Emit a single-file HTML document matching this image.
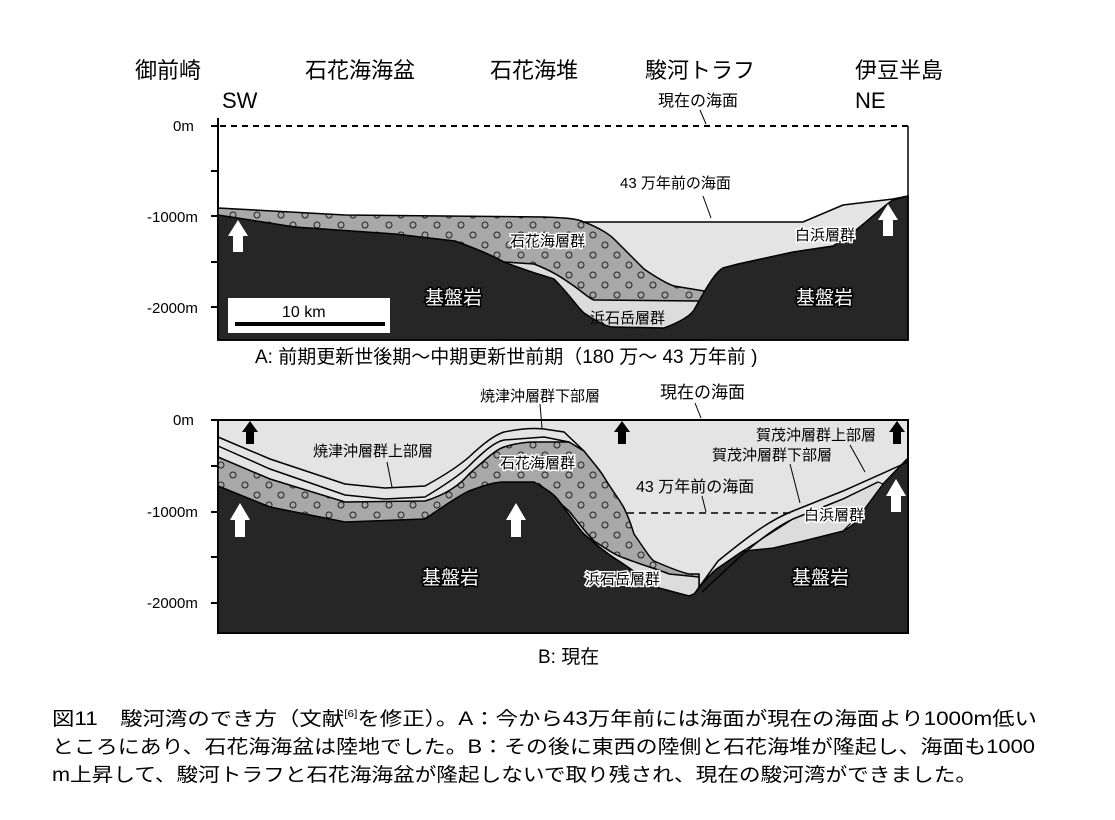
<!DOCTYPE html>
<html><head><meta charset="utf-8"><style>
html,body{margin:0;padding:0;background:#fff}
svg text{font-family:"Liberation Sans","Noto Sans CJK JP",sans-serif}
</style></head><body>
<svg width="1115" height="815" viewBox="0 0 1115 815" xmlns="http://www.w3.org/2000/svg">
<defs>
<pattern id="dots" width="24" height="20" patternUnits="userSpaceOnUse">
<rect width="24" height="20" fill="#a8a8a8"/>
<circle cx="5" cy="5" r="3" fill="none" stroke="#222" stroke-width="1"/>
<circle cx="17" cy="15" r="3" fill="none" stroke="#222" stroke-width="1"/>
</pattern>
</defs>
<g font-size="22" fill="#000">
<text x="135" y="78">御前崎</text>
<text x="305" y="78">石花海海盆</text>
<text x="490" y="78">石花海堆</text>
<text x="645" y="78">駿河トラフ</text>
<text x="855" y="78">伊豆半島</text>
<text x="222" y="108">SW</text>
<text x="855" y="108">NE</text>
</g>
<text x="658" y="106" font-size="16">現在の海面</text>
<line x1="700" y1="110" x2="706" y2="124" stroke="#000"/>
<!-- Panel A -->
<g font-size="15">
<text x="173" y="131">0m</text>
<text x="147" y="222">-1000m</text>
<text x="147" y="313">-2000m</text>
</g>
<g stroke="#000" stroke-width="2">
<line x1="211" y1="126" x2="218" y2="126"/><line x1="211" y1="171" x2="218" y2="171"/>
<line x1="211" y1="216" x2="218" y2="216"/><line x1="211" y1="262" x2="218" y2="262"/>
<line x1="211" y1="307" x2="218" y2="307"/>
<line x1="218" y1="118" x2="218" y2="340"/>
</g>
<path d="M540,222 L803,222 L843,205 L893,199 L908,196 L908,340 L540,340 Z" fill="#e4e4e4" stroke="#000" stroke-width="1.5"/>
<path d="M218,208 L345,215 L544,217 C570,218 578,219 584,222 C600,228 610,235 614,239 C630,255 640,265 644,269 C660,280 668,284 674,286 L704,291 L704,340 L218,340 Z" fill="url(#dots)" stroke="#000" stroke-width="1.5"/>
<path d="M504,262 L534,264 C555,272 565,280 574,286 C585,294 590,299 594,300 L699,301 L699,340 L504,340 Z" fill="#dcdcdc" stroke="#000" stroke-width="1.5"/>
<path d="M218,215 L295,227 L395,234 L455,241 C480,250 495,257 504,262 C530,272 545,276 554,279 C570,295 578,308 584,313 C598,322 606,327 614,327 L664,328 C680,322 690,316 694,310 C705,290 715,272 723,268 L738,264 L793,252 L833,246 C860,230 880,208 893,200 L908,196 L908,340 L218,340 Z" fill="#262626" stroke="#000" stroke-width="1.5"/>
<line x1="220" y1="126" x2="908" y2="126" stroke="#000" stroke-width="2" stroke-dasharray="6,5"/>
<line x1="218" y1="340" x2="908" y2="340" stroke="#000" stroke-width="1.5"/>
<line x1="908" y1="126" x2="908" y2="340" stroke="#000" stroke-width="1.5"/>
<path d="M233,252 L233,236 L228,236 L238,220 L248,236 L243,236 L243,252 Z" fill="#fff"/>
<path d="M883,236 L883,220 L878,220 L888,204 L898,220 L893,220 L893,236 Z" fill="#fff"/>
<rect x="228" y="298" width="162" height="35" fill="#fff"/>
<text x="282" y="317" font-size="16">10 km</text>
<rect x="235" y="322" width="150" height="4" fill="#000"/>
<g font-size="15">
<text x="510" y="246" fill="#000" stroke="#fff" stroke-width="3" paint-order="stroke">石花海層群</text>
<text x="795" y="240" fill="#000" stroke="#fff" stroke-width="3" paint-order="stroke">白浜層群</text>
<text x="590" y="323">浜石岳層群</text>
<text x="620" y="188">43 万年前の海面</text>
</g>
<line x1="703" y1="196" x2="711" y2="218" stroke="#000"/>
<g font-size="19" fill="#fff" stroke="#000" stroke-width="3" paint-order="stroke">
<text x="425" y="304">基盤岩</text>
<text x="796" y="304">基盤岩</text>
</g>
<text x="255" y="363" font-size="19">A: 前期更新世後期～中期更新世前期（180 万～ 43 万年前 )</text>
<!-- Panel B -->
<text x="480" y="401" font-size="15">焼津沖層群下部層</text>
<text x="660" y="398" font-size="17">現在の海面</text>
<line x1="695" y1="403" x2="701" y2="418" stroke="#000"/>
<g font-size="15">
<text x="173" y="425">0m</text>
<text x="147" y="517">-1000m</text>
<text x="147" y="608">-2000m</text>
</g>
<g stroke="#000" stroke-width="2">
<line x1="211" y1="420" x2="218" y2="420"/><line x1="211" y1="466" x2="218" y2="466"/>
<line x1="211" y1="512" x2="218" y2="512"/><line x1="211" y1="557" x2="218" y2="557"/>
<line x1="211" y1="603" x2="218" y2="603"/>
</g>
<rect x="218" y="420" width="690" height="213" fill="#e4e4e4" stroke="#000" stroke-width="2"/>
<path d="M218,457 L270,479 L345,502 L425,501 C445,495 460,485 469,474 C485,460 495,450 504,447 C520,442 530,442 534,442 L569,442 L584,451 C595,465 600,470 604,477 C615,495 620,500 624,508 C630,520 632,528 634,534 C645,550 650,558 654,561 C670,568 680,572 689,574 L699,574 L699,633 L218,633 Z" fill="url(#dots)" stroke="#000" stroke-width="1.5"/>
<path d="M539,484 C555,498 562,505 569,511 C580,525 588,535 594,541 C608,550 615,555 624,558 C645,566 660,570 669,574 L699,577 L699,633 L539,633 Z" fill="#dcdcdc" stroke="#000" stroke-width="1.5"/>
<path d="M218,486 L270,507 L345,522 L425,519 C445,505 460,495 469,491 C485,485 495,482 504,482 L534,482 C548,490 555,495 559,501 C570,515 578,528 584,534 C600,548 610,556 619,561 C640,575 650,584 659,588 L689,596 L694,594 C705,580 712,572 718,568 C730,560 738,554 743,551 L773,548 L803,541 L843,531 C855,525 860,518 863,511 L883,484 L908,458 L908,633 L218,633 Z" fill="#262626" stroke="#000" stroke-width="1.5"/>
<path d="M743,551 L773,548 L803,541 L843,531 L863,511 L883,484 L878,482 L843,499 L793,519 Z" fill="#dcdcdc" stroke="#000" stroke-width="1.2"/>
<g fill="none" stroke="#000" stroke-width="1.5">
<path d="M218,437 L270,459 L345,484 L385,488 L425,486 C445,475 460,465 469,457 C485,442 495,435 504,432 C525,428 535,428 544,429 L564,432 L584,451"/>
<path d="M218,446 L270,469 L345,495 L385,499 L425,497 C445,485 460,475 469,466 C485,450 495,442 504,440 L544,437 L569,442"/>
<path d="M697,590 L718,561 C750,535 770,520 793,511 L843,491 L908,462"/>
<path d="M702,592 L743,554 C765,535 780,525 793,519 L843,499 L878,482"/>
</g>
<line x1="627" y1="513" x2="795" y2="513" stroke="#000" stroke-width="1.5" stroke-dasharray="7,5"/>
<g fill="#000">
<path d="M246,444 L246,432 L242,432 L250,421 L258,432 L254,432 L254,444 Z"/>
<path d="M618,444 L618,432 L614,432 L622,421 L630,432 L626,432 L626,444 Z"/>
<path d="M893,444 L893,432 L889,432 L897,421 L905,432 L901,432 L901,444 Z"/>
</g>
<g fill="#fff">
<path d="M235,537 L235,520 L230,520 L240,503 L250,520 L245,520 L245,537 Z"/>
<path d="M511,537 L511,520 L506,520 L516,503 L526,520 L521,520 L521,537 Z"/>
<path d="M891,512 L891,496 L886,496 L896,479 L906,496 L901,496 L901,512 Z"/>
</g>
<g font-size="15">
<text x="313" y="456">焼津沖層群上部層</text>
<text x="500" y="468" stroke="#fff" stroke-width="3" paint-order="stroke">石花海層群</text>
<text x="756" y="440">賀茂沖層群上部層</text>
<text x="712" y="460">賀茂沖層群下部層</text>
<text x="636" y="492" font-size="16">43 万年前の海面</text>
<text x="804" y="520" stroke="#fff" stroke-width="3" paint-order="stroke">白浜層群</text>
<text x="585" y="584" stroke="#fff" stroke-width="3" paint-order="stroke">浜石岳層群</text>
</g>
<g stroke="#000" fill="none">
<line x1="540" y1="404" x2="542" y2="428"/>
<line x1="387" y1="462" x2="392" y2="487"/>
<line x1="702" y1="496" x2="706" y2="512"/>
<line x1="850" y1="445" x2="865" y2="472"/>
<line x1="790" y1="464" x2="800" y2="503"/>
</g>
<g font-size="19" fill="#fff" stroke="#000" stroke-width="3" paint-order="stroke">
<text x="422" y="584">基盤岩</text>
<text x="792" y="584">基盤岩</text>
</g>
<text x="538" y="663" font-size="19">B: 現在</text>
<g font-size="19">
<text x="52" y="725" textLength="985" lengthAdjust="spacingAndGlyphs">図11　駿河湾のでき方（文献<tspan font-size="10" dy="-8">[6]</tspan><tspan dy="8">を修正）。A：今から43万年前には海面が現在の海面より1000m低い</tspan></text>
<text x="52" y="753" textLength="983" lengthAdjust="spacingAndGlyphs">ところにあり、石花海海盆は陸地でした。B：その後に東西の陸側と石花海堆が隆起し、海面も1000</text>
<text x="52" y="781" textLength="925" lengthAdjust="spacingAndGlyphs">m上昇して、駿河トラフと石花海海盆が隆起しないで取り残され、現在の駿河湾ができました。</text>
</g>
</svg>
</body></html>
